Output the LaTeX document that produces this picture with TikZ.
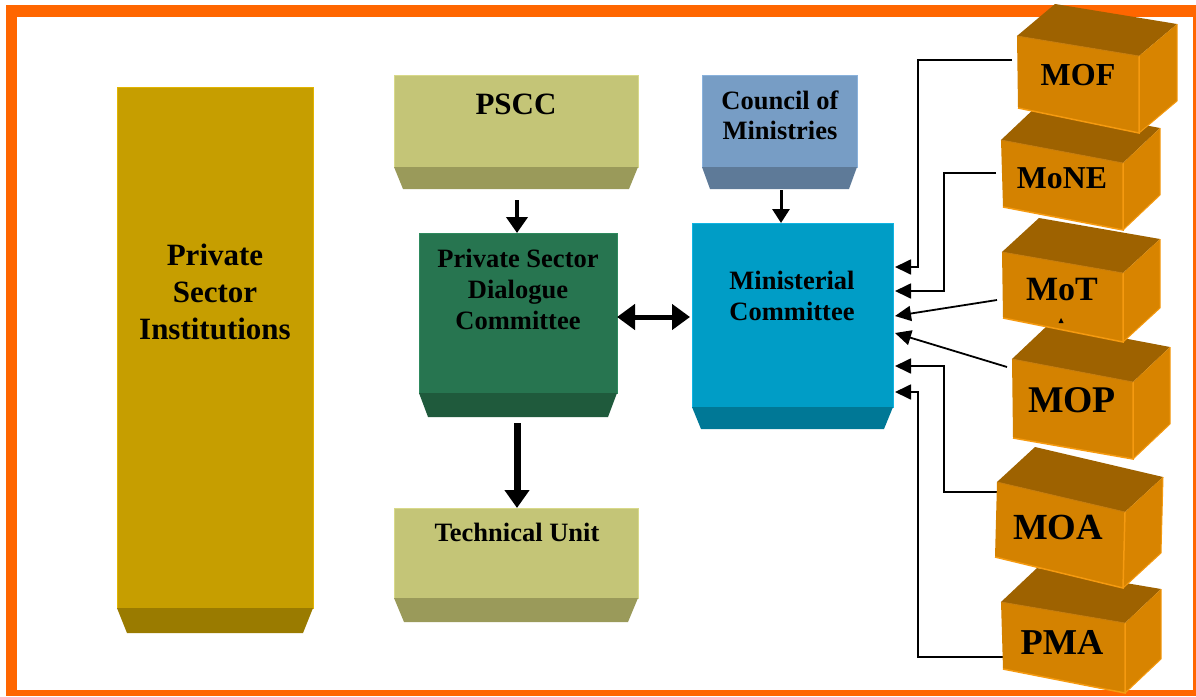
\documentclass[tikz,border=0pt]{standalone}
\usepackage{fontspec}
\setmainfont{Liberation Serif}
\usetikzlibrary{arrows.meta,calc}
\definecolor{frameor}{HTML}{FF6600}
\definecolor{psifront}{HTML}{C69E00}
\definecolor{psidark}{HTML}{9A7B00}
\definecolor{psiedge}{HTML}{E2B400}
\definecolor{olfront}{HTML}{C4C577}
\definecolor{oldark}{HTML}{9A9A5A}
\definecolor{oledge}{HTML}{D8D98A}
\definecolor{bluefront}{HTML}{779DC5}
\definecolor{bluedark}{HTML}{5E7A98}
\definecolor{blueedge}{HTML}{8AB2DC}
\definecolor{grfront}{HTML}{277550}
\definecolor{grdark}{HTML}{1F5A3C}
\definecolor{gredge}{HTML}{2E8A5E}
\definecolor{cyfront}{HTML}{009DC6}
\definecolor{cydark}{HTML}{007896}
\definecolor{cyedge}{HTML}{10B4E2}
\definecolor{cubefront}{HTML}{D48200}
\definecolor{cubetop}{HTML}{9E6200}
\definecolor{cuberight}{HTML}{D88400}
\definecolor{cubeedge}{HTML}{F59A10}
\newcommand\traps[4]{\fill[#2] (#1.south west) -- (#1.south east) -- ([xshift=-#3pt,yshift=-#4pt]#1.south east) -- ([xshift=#3pt,yshift=-#4pt]#1.south west) -- cycle;}
\newcommand\ocube[5]{%
  \fill[cubetop] (#1) -- (#2) -- ($(#2)+(#5)$) -- ($(#1)+(#5)$) -- cycle;
  \fill[cuberight] (#2) -- ($(#2)+(#5)$) -- ($(#3)+(#5)$) -- (#3) -- cycle;
  \fill[cubefront] (#1) -- (#2) -- (#3) -- (#4) -- cycle;
  \draw[cubeedge, line width=1.5pt] (#4) -- (#3) -- (#2);
  \draw[cubeedge, line width=1pt] ($(#2)+(#5)$) -- ($(#3)+(#5)$) -- (#3);
  \draw[cubeedge!80!black, line width=0.8pt] (#1) -- (#2);
}
\begin{document}
\begin{tikzpicture}[x=1pt,y=-1pt,
  box/.style={rectangle, inner sep=0pt, outer sep=0pt, anchor=north west, line width=1pt},
  lab/.style={font=\bfseries, align=center, inner sep=0pt},
  arrA/.style={line width=4pt, -{Triangle[length=16pt,width=21pt]}},
  arrB/.style={line width=3pt, -{Triangle[length=14pt,width=17pt]}},
  arrD/.style={line width=5pt, {Triangle[length=18pt,width=25pt]}-{Triangle[length=18pt,width=25pt]}},
  arrT/.style={line width=7pt, -{Triangle[length=18pt,width=24pt]}},
  conn/.style={line width=1.8pt, -{Triangle[length=16pt,width=15pt]}}]
\useasboundingbox (0,0) rectangle (1196,696);
% frame
\fill[frameor] (6,5) rectangle (1196,696);
\fill[white] (17,17) rectangle (1193,690);

% Private Sector Institutions
\node[box, fill=psifront, draw=psiedge, minimum width=196pt, minimum height=521pt] (psibox) at (117,87) {};
\traps{psibox}{psidark}{10}{25}
\node[lab, font=\bfseries\fontsize{31}{37}\selectfont] (psi) at (215,292) {Private\\Sector\\Institutions};

% PSCC
\node[box, fill=olfront, draw=oledge, minimum width=244pt, minimum height=92pt] (psccbox) at (394,75) {};
\traps{psccbox}{oldark}{9}{22}
\node[lab, font=\bfseries\fontsize{31}{37}\selectfont] (pscc) at (516,104) {PSCC};

% Council of Ministries
\node[box, fill=bluefront, draw=blueedge, minimum width=155pt, minimum height=92pt] (combox) at (702,75) {};
\traps{combox}{bluedark}{8}{22}
\node[lab, font=\bfseries\fontsize{26.5}{30}\selectfont] (com) at (780,115) {Council of\\Ministries};

% Private Sector Dialogue Committee
\node[box, fill=grfront, draw=gredge, minimum width=198pt, minimum height=160pt] (psdcbox) at (419,233) {};
\traps{psdcbox}{grdark}{9}{24}
\node[lab, font=\bfseries\fontsize{26.5}{31}\selectfont] (psdc) at (518,289) {Private Sector\\Dialogue\\Committee};

% Ministerial Committee
\node[box, fill=cyfront, draw=cyedge, minimum width=201pt, minimum height=184pt] (mcbox) at (692,223) {};
\traps{mcbox}{cydark}{9}{22}
\node[lab, font=\bfseries\fontsize{26.5}{31}\selectfont] (mc) at (792,296) {Ministerial\\Committee};

% Technical Unit
\node[box, fill=olfront, draw=oledge, minimum width=244pt, minimum height=90pt] (tubox) at (394,508) {};
\traps{tubox}{oldark}{10}{24}
\node[lab, font=\bfseries\fontsize{26.5}{31}\selectfont] (tu) at (517,532) {Technical Unit};

% main arrows
\draw[arrA] (517,200) -- (psdcbox.north -| 517,0);
\draw[arrB] (781,190) -- (mcbox.north -| 781,0);
\draw[arrD] (psdcbox.east |- 0,317) -- ([xshift=-2pt]mcbox.west |- 0,317);
\draw[arrT] (517,423) -- (tubox.north -| 517,0);

% connector start points
\coordinate (mofin) at (1012,60);
\coordinate (monein) at (996,173);
\coordinate (motin) at (997,300);
\coordinate (mopin) at (1007,367);
\coordinate (moain) at (997,492);
\coordinate (pmain) at (1007,657);

\draw[conn] (mofin) -- ++(-94,0) |- ([xshift=2pt]mcbox.east |- 0,267);
\draw[conn] (monein) -- ++(-52,0) |- ([xshift=2pt]mcbox.east |- 0,291);
\draw[conn] (motin) -- ([xshift=2pt]mcbox.east |- 0,316);
\draw[conn] (mopin) -- ([xshift=2pt]mcbox.east |- 0,333);
\draw[conn] (moain) -- ++(-53,0) |- ([xshift=2pt]mcbox.east |- 0,366);
\draw[conn] (pmain) -- ++(-89,0) |- ([xshift=2pt]mcbox.east |- 0,392);

% cubes (bottom first)
\ocube{1001,602}{1125,623}{1125,693}{1003,669}{36,-34}
\ocube{997,482}{1125,512}{1123,588}{995,557}{38,-35}
\ocube{1012,359}{1133,382}{1133,459}{1013,438}{37,-35}
\ocube{1002,252}{1123,273}{1123,342}{1003,318}{37,-34}
\ocube{1001,140}{1123,163}{1123,230}{1003,207}{37,-35}
\ocube{1017,36}{1139,56}{1139,133}{1018,108}{38,-32}

\node[lab, font=\bfseries\fontsize{36.4}{40}\selectfont] (pma) at (1062,642) {PMA};
\node[lab, font=\bfseries\fontsize{36.8}{40}\selectfont] (moa) at (1058,527) {MOA};
\node[lab, font=\bfseries\fontsize{37.7}{40}\selectfont] (mop) at (1072,400) {MOP};
\node[lab, font=\bfseries\fontsize{34}{40}\selectfont] (mot) at (1062,290) {MoT};
\node[lab, font=\bfseries\fontsize{31.8}{40}\selectfont] (mone) at (1062,178) {MoNE};
\node[lab, font=\bfseries\fontsize{32}{40}\selectfont] (mof) at (1078,75) {MOF};
\fill (1058.5,323) -- (1063.5,323) -- (1061,318) -- cycle;
\end{tikzpicture}
\end{document}
